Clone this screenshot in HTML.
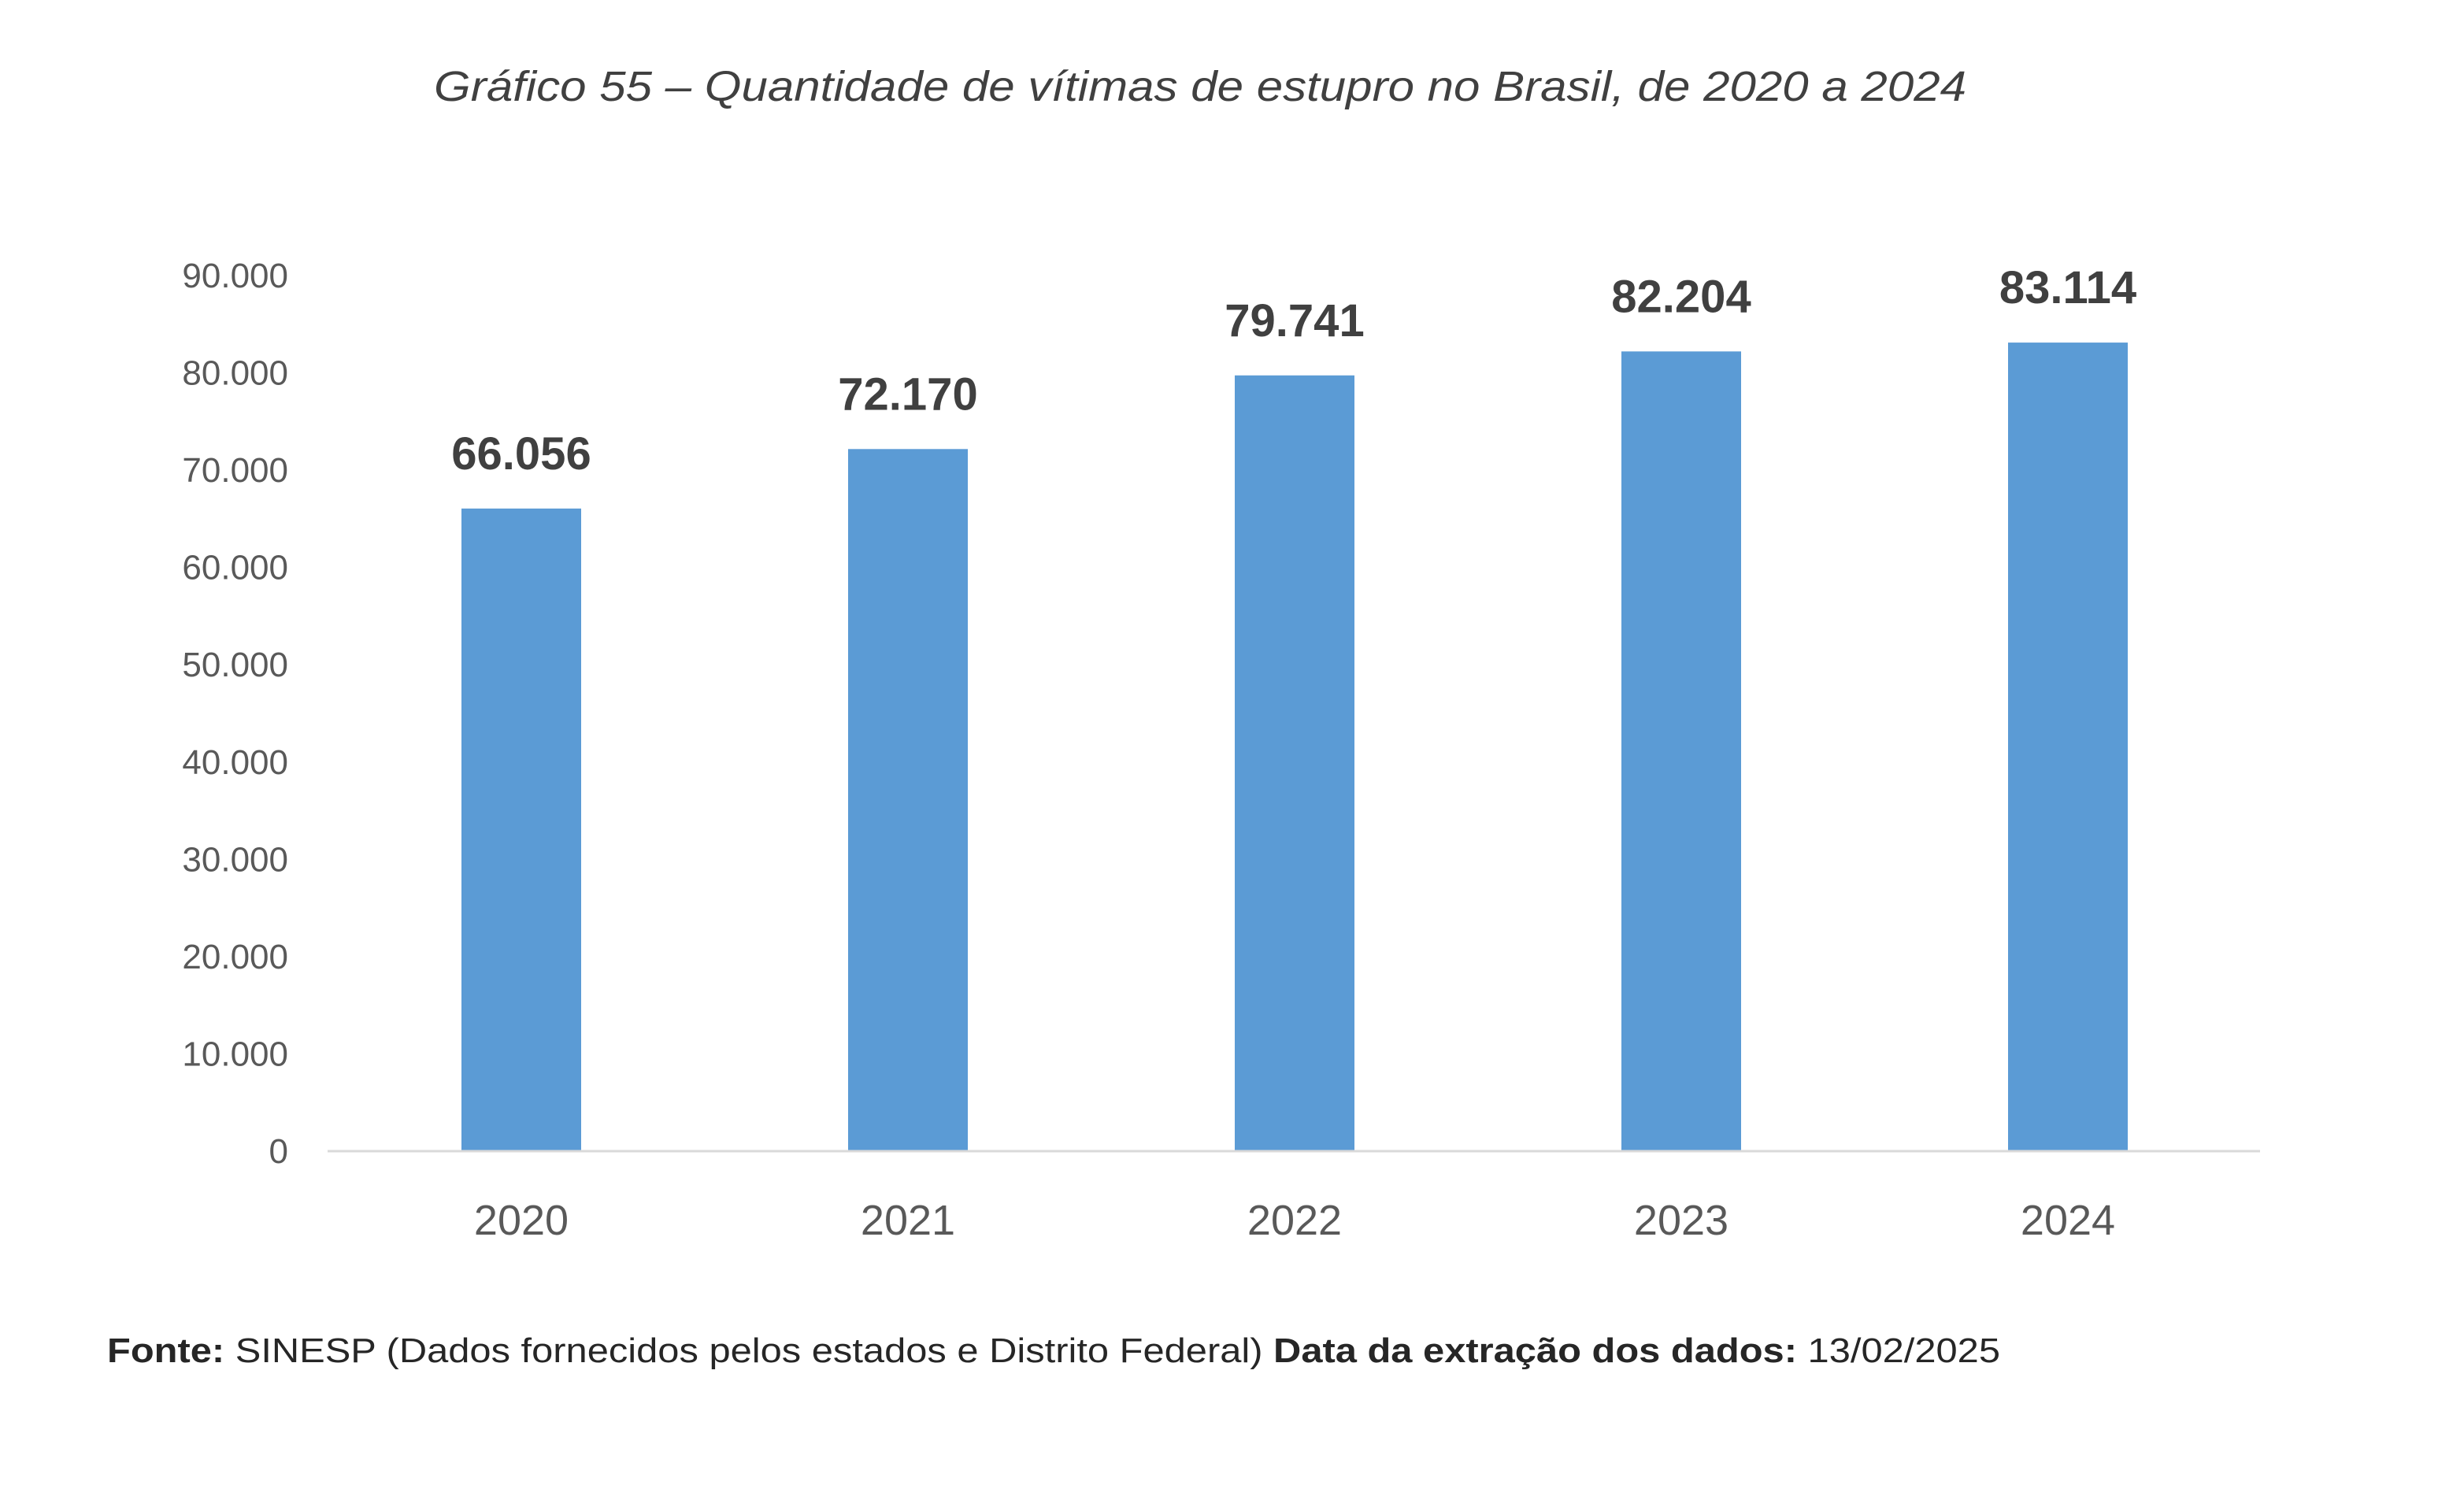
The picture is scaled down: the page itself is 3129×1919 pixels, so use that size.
<!DOCTYPE html>
<html><head><meta charset="utf-8"><style>
html,body{margin:0;padding:0;background:#fff;}
svg{display:block;font-family:"Liberation Sans",sans-serif;}
</style></head><body>
<svg id="chart" width="3129" height="1919" viewBox="0 0 3129 1919">
<text x="1524" y="128" text-anchor="middle" font-size="54" font-style="italic" fill="#404040" textLength="1946" lengthAdjust="spacingAndGlyphs">Gráfico 55 – Quantidade de vítimas de estupro no Brasil, de 2020 a 2024</text>
<g id="yaxis"></g>
<g id="bars"></g>
<line x1="416" y1="1462" x2="2870" y2="1462" stroke="#d9d9d9" stroke-width="3"/>
<text x="136" y="1730" font-size="44" fill="#262626" textLength="2404" lengthAdjust="spacingAndGlyphs"><tspan font-weight="bold">Fonte:</tspan> SINESP (Dados fornecidos pelos estados e Distrito Federal)   <tspan font-weight="bold">Data da extração dos dados:</tspan> 13/02/2025</text>
</svg>
<script>
const categories = ["2020","2021","2022","2023","2024"];
const values = [66056,72170,79741,82204,83114];
const valueLabels = ["66.056","72.170","79.741","82.204","83.114"];
const yTicks = [0,10000,20000,30000,40000,50000,60000,70000,80000,90000];
const yTickLabels = ["0","10.000","20.000","30.000","40.000","50.000","60.000","70.000","80.000","90.000"];
const NS="http://www.w3.org/2000/svg";
const y0=1462,y1=350,vmax=90000;
function yScale(v){return y0-(v/vmax)*(y0-y1);}
const plotL=416,plotR=2870;
function xScale(i){return 662+i*491;}
const bw=152;
const ya=document.getElementById('yaxis');
yTicks.forEach((t,i)=>{
 const tx=document.createElementNS(NS,'text');
 
 
 tx.setAttribute('x',366);tx.setAttribute('y',yScale(t)+15);
 tx.setAttribute('text-anchor','end');tx.setAttribute('font-size','44');tx.setAttribute('fill','#595959');
 tx.textContent=yTickLabels[i];ya.appendChild(tx);
});
const bg=document.getElementById('bars');
categories.forEach((c,i)=>{
 const cx=xScale(i),y=yScale(values[i]);
 const r=document.createElementNS(NS,'rect');
 
 
 r.setAttribute('x',cx-bw/2);r.setAttribute('y',y);r.setAttribute('width',bw);r.setAttribute('height',y0-y);r.setAttribute('fill','#5b9bd5');
 bg.appendChild(r);
 const vl=document.createElementNS(NS,'text');
 
 
 vl.setAttribute('x',cx);vl.setAttribute('y',y-50);vl.setAttribute('text-anchor','middle');
 vl.setAttribute('font-size','58');vl.setAttribute('font-weight','bold');vl.setAttribute('fill','#404040');
 vl.textContent=valueLabels[i];bg.appendChild(vl);
 const xl=document.createElementNS(NS,'text');
 
 
 xl.setAttribute('x',cx);xl.setAttribute('y',1568);xl.setAttribute('text-anchor','middle');
 xl.setAttribute('font-size','54');xl.setAttribute('fill','#595959');
 xl.textContent=c;bg.appendChild(xl);
});
</script>
</body></html>
